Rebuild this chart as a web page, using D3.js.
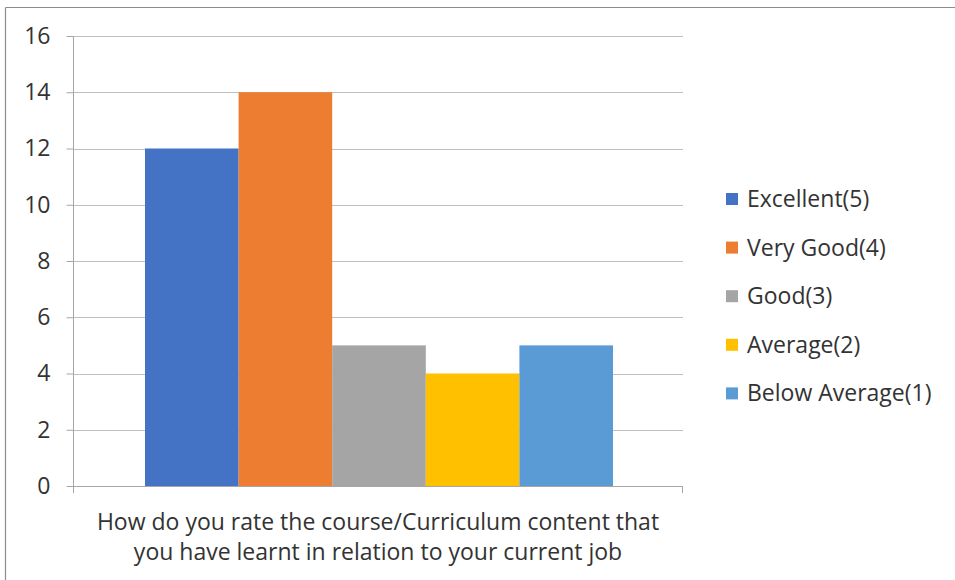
<!DOCTYPE html>
<html><head><meta charset="utf-8">
<script src="https://cdn.jsdelivr.net/npm/d3@7"></script>
<style>body{margin:0;background:#fff}svg{display:block}text{font-family:"Open Sans","Noto Sans",sans-serif;fill:#333}</style>
</head><body><svg id="c" width="955" height="580"></svg>
<script>
const categories = ["Excellent(5)","Very Good(4)","Good(3)","Average(2)","Below Average(1)"];
const values = [12,14,5,4,5];
const colors = ["#4472C4","#ED7D31","#A5A5A5","#FFC000","#5B9BD5"];
const yTicks = [0,2,4,6,8,10,12,14,16];
const xLabelLines = ["How do you rate the course/Curriculum content that","you have learnt in relation to your current job"];

(function(){
const FS = 23;
const svg = d3.select("#c");
svg.append("line").attr("x1",5.5).attr("x2",5.5).attr("y1",7.5).attr("y2",580).attr("stroke","#8c8c8c").attr("stroke-width",1.2);
svg.append("line").attr("x1",5.5).attr("x2",955).attr("y1",7.5).attr("y2",7.5).attr("stroke","#8c8c8c").attr("stroke-width",1.2);

const pL=73, pR=683, pT=36, pB=486;
const y = d3.scaleLinear().domain([0,16]).range([pB,pT]);
const x = d3.scaleBand().domain(categories).range([145,613]).paddingInner(0);

svg.append("g").selectAll("line").data(yTicks.filter(d=>d>0)).join("line")
  .attr("x1",pL).attr("x2",pR).attr("y1",d=>Math.round(y(d))+0.5).attr("y2",d=>Math.round(y(d))+0.5)
  .attr("stroke","#BFBFBF").attr("stroke-width",1);

svg.append("g").selectAll("rect").data(values).join("rect")
  .attr("x",(d,i)=>x(categories[i])).attr("width",x.bandwidth())
  .attr("y",d=>y(d)).attr("height",d=>pB-y(d)).attr("fill",(d,i)=>colors[i]);

const ya = svg.append("g").attr("transform",`translate(${pL+0.5},0)`)
  .call(d3.axisLeft(y).tickValues(yTicks).tickSize(7).tickPadding(16).tickFormat(d3.format("d")));
ya.select(".domain").attr("stroke","#A6A6A6").attr("d",`M0,${pT}V${pB}`);
ya.selectAll(".tick line").attr("stroke","#A6A6A6");
ya.selectAll(".tick text").attr("font-size",FS).attr("fill","#333").style("font-family",'"Open Sans","Noto Sans",sans-serif');

svg.append("line").attr("x1",pL).attr("x2",pR).attr("y1",pB+0.5).attr("y2",pB+0.5).attr("stroke","#A6A6A6");
svg.append("line").attr("x1",pL+0.5).attr("x2",pL+0.5).attr("y1",pB).attr("y2",pB+7).attr("stroke","#A6A6A6");
svg.append("line").attr("x1",pR-0.5).attr("x2",pR-0.5).attr("y1",pB).attr("y2",pB+7).attr("stroke","#A6A6A6");

svg.append("g").selectAll("text").data(xLabelLines).join("text")
  .attr("x",(pL+pR)/2).attr("y",(d,i)=>530+i*30).attr("text-anchor","middle")
  .attr("font-size",FS).text(d=>d);

const lg = svg.append("g").selectAll("g").data(categories).join("g")
  .attr("transform",(d,i)=>`translate(726,${199+i*48.6})`);
lg.append("rect").attr("x",0).attr("y",-6).attr("width",12).attr("height",12).attr("fill",(d,i)=>colors[i]);
lg.append("text").attr("x",21).attr("y",8).attr("font-size",FS).text(d=>d);
})();
</script></body></html>
